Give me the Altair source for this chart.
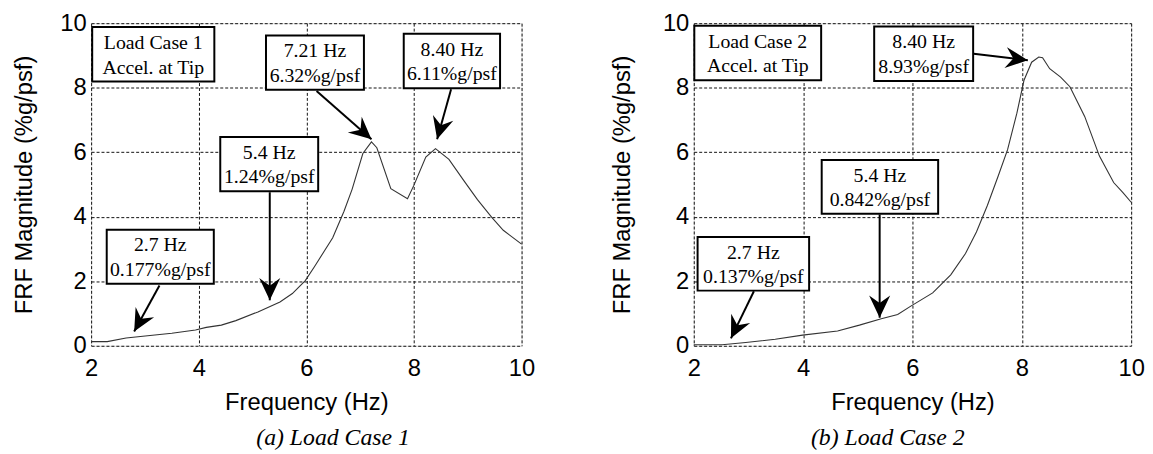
import math
import altair as alt
import pandas as pd

# ---- Load Case 1 curve ----
freq1 = [2.0, 2.3, 2.65, 3.05, 3.5, 3.94, 4.14, 4.42, 4.69, 5.1, 5.51, 5.74, 5.98,
         6.15, 6.49, 6.70, 6.85, 7.05, 7.21, 7.31, 7.57, 7.88, 8.0, 8.22, 8.40,
         8.65, 8.94, 9.18, 9.45, 9.66, 10.0]
mag1 = [0.13, 0.13, 0.24, 0.31, 0.39, 0.49, 0.57, 0.64, 0.78, 1.05, 1.36, 1.62, 2.02,
        2.45, 3.35, 4.17, 4.85, 5.96, 6.32, 6.14, 4.87, 4.56, 4.98, 5.85, 6.11,
        5.78, 5.09, 4.53, 3.97, 3.58, 3.15]

# ---- Load Case 2 curve ----
freq2 = [2.0, 2.52, 2.95, 3.49, 3.99, 4.63, 5.03, 5.43, 5.73, 5.97, 6.37, 6.70,
         6.97, 7.17, 7.37, 7.57, 7.74, 7.91, 8.04, 8.18, 8.31, 8.38, 8.51, 8.71,
         8.88, 9.15, 9.42, 9.68, 9.85, 10.0]
mag2 = [0.03, 0.03, 0.10, 0.20, 0.33, 0.46, 0.64, 0.84, 0.97, 1.23, 1.64, 2.20,
        2.86, 3.53, 4.35, 5.27, 6.08, 7.21, 8.23, 8.79, 8.95, 8.93, 8.59, 8.33,
        8.03, 7.11, 5.88, 5.06, 4.75, 4.45]

# ---- annotations, panel (a) ----
ann1_line1 = ["Load Case 1", "7.21 Hz", "8.40 Hz", "5.4 Hz", "2.7 Hz"]
ann1_line2 = ["Accel. at Tip", "6.32%g/psf", "6.11%g/psf", "1.24%g/psf", "0.177%g/psf"]
ann1_x1 = [2.02, 5.25, 7.81, 4.40, 2.29]
ann1_x2 = [4.29, 7.07, 9.60, 6.22, 4.28]
ann1_y1 = [9.88, 9.62, 9.67, 6.47, 3.60]
ann1_y2 = [8.19, 7.94, 7.98, 4.79, 1.92]
arr1_x = [6.19, 8.69, 5.32, 3.27]
arr1_y = [7.90, 7.95, 4.76, 1.87]
arr1_tx = [7.21, 8.43, 5.32, 2.80]
arr1_ty = [6.40, 6.40, 1.41, 0.44]

# ---- annotations, panel (b) ----
ann2_line1 = ["Load Case 2", "8.40 Hz", "5.4 Hz", "2.7 Hz"]
ann2_line2 = ["Accel. at Tip", "8.93%g/psf", "0.842%g/psf", "0.137%g/psf"]
ann2_x1 = [2.01, 5.30, 4.34, 2.07]
ann2_x2 = [4.33, 7.11, 6.47, 4.11]
ann2_y1 = [9.92, 9.90, 5.76, 3.37]
ann2_y2 = [8.23, 8.21, 4.09, 1.71]
arr2_x = [7.12, 5.40, 3.10]
arr2_y = [9.05, 4.07, 1.69]
arr2_tx = [8.11, 5.40, 2.68]
arr2_ty = [8.85, 0.87, 0.23]

SANS = "Liberation Sans"
SERIF = "Liberation Serif"
HEAD = "M0,0 L0.9,1.9 L0,1.25 L-0.9,1.9 Z"


def panel(freq, mag, l1, l2, bx1, bx2, by1, by2, ax, ay, tx, ty,
          width, height, caption, cap_dx, ytitle_pad):
    xs = alt.Scale(domain=[2, 10], nice=False, zero=False)
    ys = alt.Scale(domain=[0, 10], nice=False)
    xaxis = alt.Axis(values=[2, 4, 6, 8, 10], title="Frequency (Hz)", grid=True,
                     gridDash=[3, 2], gridColor="#111", gridWidth=1, gridOpacity=1,
                     ticks=False, domain=False, labelFont=SANS, labelFontSize=24,
                     labelColor="black", labelPadding=11, labelFlush=False,
                     titleFont=SANS, titleFontSize=24, titleFontWeight="normal",
                     titleColor="black", titlePadding=10)
    yaxis = alt.Axis(values=[0, 2, 4, 6, 8, 10], title="FRF Magnitude (%g/psf)", grid=True,
                     gridDash=[3, 2], gridColor="#111", gridWidth=1, gridOpacity=1,
                     ticks=False, domain=False, labelFont=SANS, labelFontSize=24,
                     labelColor="black", labelPadding=5, labelFlush=False,
                     titleFont=SANS, titleFontSize=24, titleFontWeight="normal",
                     titleColor="black", titlePadding=ytitle_pad)
    X = lambda f: alt.X(f, type="quantitative", scale=xs, axis=xaxis)
    Y = lambda f: alt.Y(f, type="quantitative", scale=ys, axis=yaxis)

    curve = pd.DataFrame({"x": freq, "y": mag})
    boxes = pd.DataFrame({"x": bx1, "x2": bx2, "y": by1, "y2": by2, "t1": l1, "t2": l2})
    h = boxes["y"] - boxes["y2"]
    boxes["xc"] = (boxes["x"] + boxes["x2"]) / 2
    boxes["ya"] = boxes["y"] - 0.29 * h
    boxes["yb"] = boxes["y"] - 0.745 * h
    arrows = pd.DataFrame({"x": ax, "y": ay, "x2": tx, "y2": ty})
    pxx = width / 8.0
    pxy = height / 10.0
    arrows["ang"] = [
        (math.degrees(math.atan2((b - a) * pxx, (d - c) * pxy)) + 360) % 360
        for a, b, c, d in zip(ax, tx, ay, ty)
    ]

    line = alt.Chart(curve).mark_line(color="#333", strokeWidth=1.1).encode(
        x=X("x"), y=Y("y"))
    shafts = alt.Chart(arrows).mark_rule(color="black", strokeWidth=2).encode(
        x=X("x"), y=Y("y"), x2="x2", y2="y2")
    heads = alt.Chart(arrows).mark_point(shape=HEAD, filled=True, size=560,
                                         color="black", opacity=1).encode(
        x=X("x2"), y=Y("y2"), angle=alt.Angle("ang:Q", scale=None))
    rects = alt.Chart(boxes).mark_rect(fill="white", stroke="black",
                                       strokeWidth=2).encode(
        x=X("x"), x2="x2", y=Y("y"), y2="y2")
    txt = dict(font=SERIF, fontSize=20, baseline="middle", align="center", color="black")
    text1 = alt.Chart(boxes).mark_text(**txt).encode(x=X("xc"), y=Y("ya"), text="t1:N")
    text2 = alt.Chart(boxes).mark_text(**txt).encode(x=X("xc"), y=Y("yb"), text="t2:N")

    return alt.layer(line, shafts, rects, text1, text2, heads).properties(
        width=width, height=height,
        title=alt.TitleParams(caption, orient="bottom", font=SERIF, fontStyle="italic",
                              fontSize=24, fontWeight="normal", color="black",
                              offset=12, dx=cap_dx))


left = panel(freq1, mag1, ann1_line1, ann1_line2, ann1_x1, ann1_x2, ann1_y1, ann1_y2,
             arr1_x, arr1_y, arr1_tx, arr1_ty, 435, 326, "(a) Load Case 1", 27, 24)
right = panel(freq2, mag2, ann2_line1, ann2_line2, ann2_x1, ann2_x2, ann2_y1, ann2_y2,
              arr2_x, arr2_y, arr2_tx, arr2_ty, 442, 326, "(b) Load Case 2", -25, 28)

chart = alt.hconcat(left, right, spacing=75).properties(
    padding={"left": 3, "top": 0, "right": 0, "bottom": 0}
).configure_view(stroke="#111", strokeWidth=1.2).configure(background="white")

chart.save("out.html", embed_options={"renderer": "svg", "actions": False})
